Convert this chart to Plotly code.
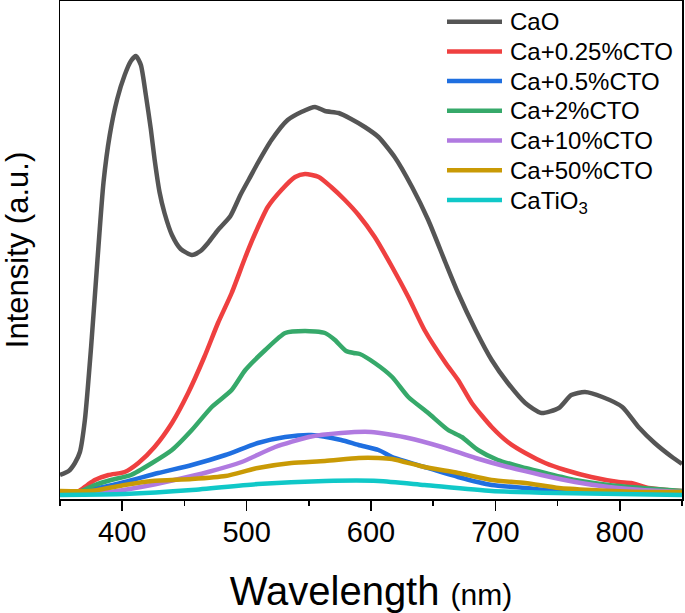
import plotly.graph_objects as go

# ---- data (wavelength in nm, intensity in a.u.) ----
cao_wl = [350, 357, 362, 366, 370, 375, 380, 385, 390, 396, 402, 407, 411, 415, 419, 423, 426, 430, 434,
          440, 447, 456, 463, 469, 477, 487, 495, 502, 509, 520, 533, 544, 555, 563, 574, 584, 595, 606,
          619, 633, 646, 660, 670, 684, 697, 710, 724, 737, 751, 761, 772, 786, 802, 815, 828, 842, 850]
cao_int = [22, 26, 34, 45, 77, 150, 235, 315, 362, 398, 422, 436, 441, 432, 402, 368, 338, 305, 284,
           262, 248, 242, 246, 254, 267, 281, 302, 318, 334, 357, 377, 385, 390, 386, 384, 378, 370, 360,
           340, 310, 277, 234, 204, 167, 137, 114, 94, 84, 89, 102, 105, 100, 90, 70, 54, 40, 33]

r025_wl = [350, 364, 372, 378, 389, 402, 413, 426, 440, 453, 466, 477, 488, 499, 507, 517, 528, 539, 547,
           558, 568, 579, 590, 603, 617, 630, 643, 660, 670, 681, 697, 710, 724, 740, 756, 777, 799, 809,
           823, 838, 850]
r025_int = [5, 5, 12, 17, 22, 25, 34, 50, 74, 104, 140, 174, 204, 240, 264, 290, 307, 320, 323,
            320, 310, 297, 282, 260, 230, 200, 167, 134, 117, 94, 70, 55, 44, 34, 27, 20, 15, 14,
            9, 7, 6]

r05_wl = [350, 365, 381, 402, 429, 456, 483, 509, 531, 552, 576, 590, 606, 617, 643, 670, 697, 724, 750, 800, 850]
r05_int = [5, 5, 9, 15, 24, 32, 42, 54, 60, 62, 57, 52, 47, 40, 30, 20, 12, 9, 6, 4, 4]

r2_wl = [350, 365, 378, 391, 407, 424, 440, 456, 472, 488, 499, 515, 531, 547, 563, 571, 580, 586, 591,
         603, 617, 630, 646, 662, 673, 686, 702, 724, 740, 764, 791, 818, 850]
r2_int = [5, 5, 12, 17, 22, 34, 47, 67, 90, 107, 127, 147, 164, 166, 164, 157, 146, 144, 143,
          134, 120, 100, 84, 67, 60, 47, 37, 29, 24, 17, 12, 9, 6]

r10_wl = [350, 389, 415, 442, 469, 496, 523, 550, 576, 600, 630, 657, 684, 710, 737, 764, 791, 818, 850]
r10_int = [5, 5, 10, 17, 25, 35, 50, 60, 64, 65, 59, 50, 39, 30, 22, 15, 10, 7, 5]

r50_wl = [350, 375, 402, 424, 456, 483, 509, 536, 563, 590, 606, 617, 643, 670, 697, 724, 751, 777, 818, 850]
r50_int = [6, 6, 12, 16, 18, 21, 29, 34, 36, 39, 39, 38, 30, 24, 17, 14, 9, 7, 5, 5]

cto_wl = [350, 402, 456, 509, 563, 606, 643, 697, 750, 850]
cto_int = [2, 3, 7, 13, 16, 16, 12, 6, 4, 2]

names = ["CaO", "Ca+0.25%CTO", "Ca+0.5%CTO", "Ca+2%CTO", "Ca+10%CTO", "Ca+50%CTO", "CaTiO<sub>3</sub>"]
colors = ["#555555", "#ef4040", "#1f6fe0", "#36a96a", "#b07ae0", "#c99a05", "#10c8c8"]
series = [(cao_wl, cao_int), (r025_wl, r025_int), (r05_wl, r05_int), (r2_wl, r2_int),
          (r10_wl, r10_int), (r50_wl, r50_int), (cto_wl, cto_int)]

W, H = 685, 613
ML, MR, MT, MB = 60, 3, 1, 114
PW, PH = W - ML - MR, H - MT - MB

def px2paper_x(px):
    return (px - ML) / PW

def py2paper_y(py):
    return (H - MB - py) / PH

FONT = "Liberation Sans, Arial, sans-serif"

fig = go.Figure()
for (wl, it), nm, c in zip(series, names, colors):
    fig.add_trace(go.Scatter(x=wl, y=it, name=nm, mode="lines", showlegend=False,
                             line=dict(color=c, width=4.5, shape="spline", smoothing=0.6)))

# legend drawn as layout shapes + annotations (rows)
shapes, annots = [], []
row0, rowgap = 21.7, 29.7
for i, (nm, c) in enumerate(zip(names, colors)):
    yc = row0 + i * rowgap
    shapes.append(dict(type="line", xref="paper", yref="paper",
                       x0=px2paper_x(447), x1=px2paper_x(502),
                       y0=py2paper_y(yc), y1=py2paper_y(yc),
                       line=dict(color=c, width=4.5)))
    annots.append(dict(text=nm, xref="paper", yref="paper", x=px2paper_x(508),
                       y=py2paper_y(yc + (3 if i == 6 else 0)), xanchor="left", yanchor="middle",
                       showarrow=False, font=dict(size=24, family=FONT, color="black")))

fig.update_layout(
    width=W, height=H,
    margin=dict(l=ML, r=MR, t=MT, b=MB),
    paper_bgcolor="white", plot_bgcolor="white",
    font=dict(family=FONT, color="black"),
    showlegend=False,
    shapes=shapes, annotations=annots,
)
fig.update_xaxes(
    range=[350, 850], tickvals=[400, 500, 600, 700, 800], automargin=False,
    ticks="outside", ticklen=10, tickwidth=1.5, tickcolor="black",
    minor=dict(dtick=50, tick0=350, ticks="outside", ticklen=5, tickwidth=1.5, tickcolor="black"),
    showline=True, linecolor="black", linewidth=1.5, mirror=True,
    showgrid=False, zeroline=False,
    tickfont=dict(size=29, family=FONT, color="black"), ticklabelstandoff=-3,
    title=dict(text="Wavelength <span style='font-size:30px'>(nm)</span>",
               font=dict(size=40, family=FONT, color="black"), standoff=30),
)
fig.update_yaxes(
    range=[-2, 496], showticklabels=False, ticks="", automargin=False,
    showline=True, linecolor="black", linewidth=1.5, mirror=True,
    showgrid=False, zeroline=False,
    title=dict(text="Intensity (a.u.)", font=dict(size=31, family=FONT, color="black"), standoff=27),
)

fig.write_html("out.html", config={"displayModeBar": False, "staticPlot": True},
               post_script="document.body.style.margin='0';document.body.style.overflow='hidden';")
